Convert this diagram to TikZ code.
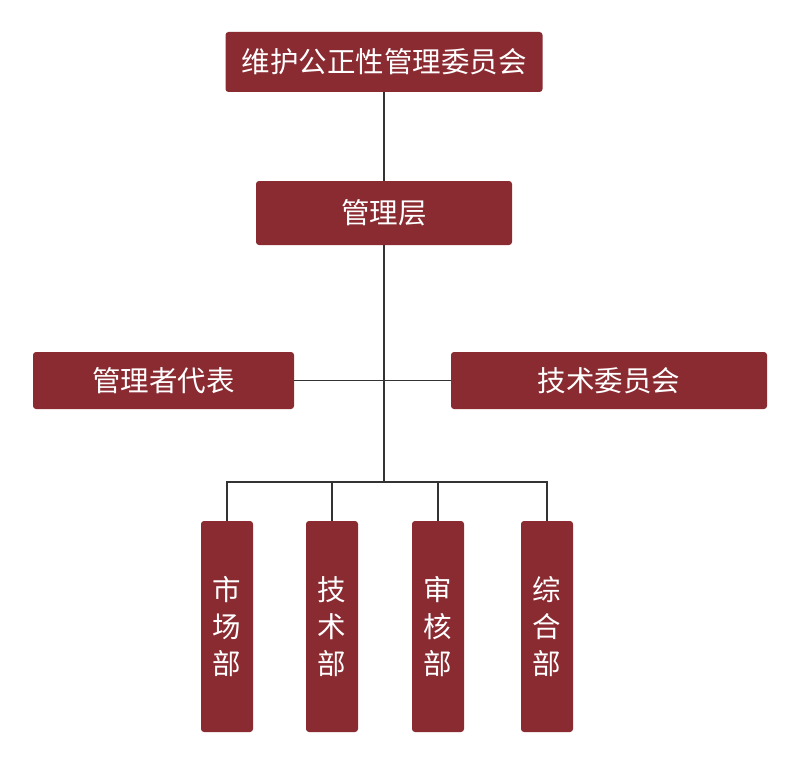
\documentclass[tikz,border=0pt]{standalone}
\usepackage{fontspec}
\newfontfamily\cjk{Noto Sans CJK SC}
\definecolor{boxred}{HTML}{8A2A31}
\definecolor{linegray}{HTML}{333333}
\tikzset{
  unit/.style={draw=none,fill=boxred,rounded corners=3pt,text=white,inner sep=0pt,
    font=\cjk\fontsize{28.5}{37}\selectfont,align=center},
  conn/.style={draw=linegray,line width=1.7pt}
}

\begin{document}
\begin{tikzpicture}[x=1pt,y=-1pt]
        \useasboundingbox (0,0) rectangle (800,765);
        \node[unit,minimum width=317pt,minimum height=60pt] (whgz) at (384,62) {维护公正性管理委员会};
        \node[unit,minimum width=256pt,minimum height=64pt] (glc) at (384,213) {管理层};
        \node[unit,minimum width=261pt,minimum height=57pt] (glzdb) at (163.5,380.5) {管理者代表};
        \node[unit,minimum width=316pt,minimum height=57pt] (jswh) at (609,380.5) {技术委员会};
        \node[unit,minimum width=52pt,minimum height=211pt] (scb) at (227,626.5) {市\\场\\部};
        \node[unit,minimum width=52pt,minimum height=211pt] (jsb) at (332,626.5) {技\\术\\部};
        \node[unit,minimum width=52pt,minimum height=211pt] (shb) at (438,626.5) {审\\核\\部};
        \node[unit,minimum width=52pt,minimum height=211pt] (zhb) at (547,626.5) {综\\合\\部};
        \coordinate (bus) at (384,482);
        \draw[conn] (whgz.south) -- (glc.north);
        \draw[conn] (glc.south) -- (bus);
        \draw[conn] (glzdb.east) -- (jswh.west);
        \draw[conn] (scb.north) |- (bus) -| (zhb.north);
        \draw[conn] (jsb.north) -- (jsb.north |- bus);
        \draw[conn] (shb.north) -- (shb.north |- bus);
    \end{tikzpicture}
\end{document}
